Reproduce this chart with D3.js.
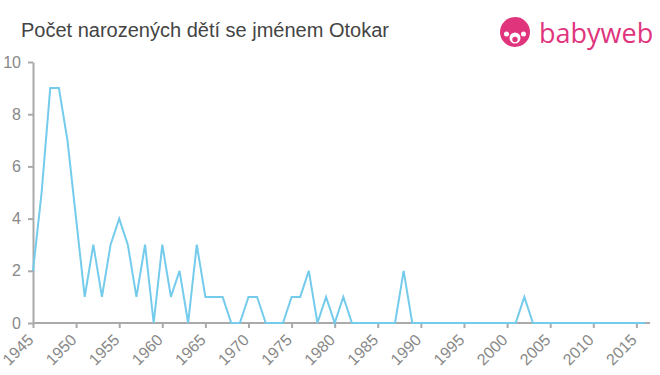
<!DOCTYPE html>
<html>
<head>
<meta charset="utf-8">
<script src="https://cdn.jsdelivr.net/npm/d3@7"></script>
<style>
  body { margin: 0; background: #fff; }
  svg { display: block; font-family: "Liberation Sans", Arial, sans-serif; }
</style>
</head>
<body>
<svg id="chart" width="660" height="375"></svg>
<script>
var title = "Počet narozených dětí se jménem Otokar";
var years = d3.range(1945, 2017);
var counts = [2, 5, 9, 9, 7, 4, 1, 3, 1, 3, 4, 3, 1, 3, 0, 3, 1, 2, 0, 3,
              1, 1, 1, 0, 0, 1, 1, 0, 0, 0, 1, 1, 2, 0, 1, 0, 1, 0, 0, 0,
              0, 0, 0, 2, 0, 0, 0, 0, 0, 0, 0, 0, 0, 0, 0, 0, 0, 1, 0, 0,
              0, 0, 0, 0, 0, 0, 0, 0, 0, 0, 0, 0];
var xTicks = d3.range(1945, 2020, 5);
var yTicks = [0, 2, 4, 6, 8, 10];

var svg = d3.select("#chart");

var x = d3.scaleLinear().domain([1945, 2016]).range([33, 645]);
var y = d3.scaleLinear().domain([0, 10]).range([323, 62]);

// title
svg.append("text")
  .attr("x", 21).attr("y", 37)
  .attr("fill", "#444")
  .style("font-size", "20px")
  .text(title);

// logo
var logo = svg.append("g").attr("transform", "translate(515,32)");
logo.append("circle").attr("r", 15).attr("fill", "#e0357d");
logo.append("circle").attr("cx", 0).attr("cy", 6).attr("r", 5.5).attr("fill", "#fff");
logo.append("circle").attr("cx", -8.5).attr("cy", 2).attr("r", 2.5).attr("fill", "#fff");
logo.append("circle").attr("cx", 8.5).attr("cy", 2).attr("r", 2.5).attr("fill", "#fff");
logo.append("circle").attr("cx", 0).attr("cy", 7.5).attr("r", 2.7).attr("fill", "#e0357d");
svg.append("text")
  .attr("x", 539).attr("y", 43)
  .attr("fill", "#e0357d")
  .style("font-size", "27px")
  .style("font-family", "'Open Sans', sans-serif")
  .text("babyweb");

// axes
var gx = svg.append("g").attr("transform", "translate(0," + y(0) + ")")
  .call(d3.axisBottom(x).tickValues(xTicks).tickFormat(d3.format("d")).tickSize(5).tickSizeOuter(0));
gx.select(".domain").attr("stroke", "#aaa").attr("stroke-width", 2)
  .attr("d", "M33,0H650");
gx.selectAll(".tick line").attr("stroke", "#aaa").attr("stroke-width", 2);
gx.selectAll(".tick text")
  .attr("fill", "#888")
  .style("font-size", "16px")
  .attr("text-anchor", "end")
  .attr("transform", "translate(-3,14) rotate(-45)")
  .attr("dy", "0.35em")
  .attr("y", 0);

var gy = svg.append("g").attr("transform", "translate(" + x(1945) + ",0)")
  .call(d3.axisLeft(y).tickValues(yTicks).tickSize(5).tickSizeOuter(0));
gy.select(".domain").attr("stroke", "#aaa").attr("stroke-width", 2);
gy.selectAll(".tick line").attr("stroke", "#aaa").attr("stroke-width", 2);
gy.selectAll(".tick text").attr("fill", "#888").style("font-size", "16px").attr("x", -12);

// line
var line = d3.line()
  .x(function(d, i) { return x(years[i]); })
  .y(function(d) { return y(d); });

svg.append("path")
  .datum(counts)
  .attr("fill", "none")
  .attr("stroke", "#74cbec")
  .attr("stroke-width", 2)
  .attr("d", line);
</script>
</body>
</html>
